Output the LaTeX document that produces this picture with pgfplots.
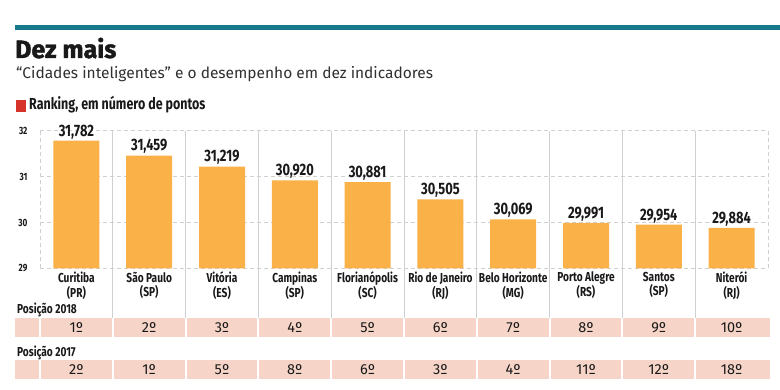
\documentclass[border=0pt]{standalone}
\usepackage{fontspec}
\setmainfont{Fira Sans}
\newfontfamily\cond{Fira Sans}[FakeStretch=0.78]
\newfontfamily\heavy{Fira Sans Bold}[FakeBold=1.6]
\usepackage{pgfplots}
\pgfplotsset{compat=1.18}
\usepackage{pgfplotstable}
\definecolor{tealc}{RGB}{22,122,140}
\definecolor{barc}{RGB}{250,178,72}
\definecolor{pinkc}{RGB}{246,213,200}
\definecolor{redc}{RGB}{214,52,42}
\definecolor{gridc}{RGB}{208,208,208}
\definecolor{txt}{RGB}{25,25,25}
\pgfplotstableread{
x y lab
0 31.782 31,782
1 31.459 31,459
2 31.219 31,219
3 30.920 30,920
4 30.881 30,881
5 30.505 30,505
6 30.069 30,069
7 29.991 29,991
8 29.954 29,954
9 29.884 29,884
}\datatab
\begin{document}
\begin{tikzpicture}[x=1pt,y=1pt]
\fill[white] (0,0) rectangle (780,-390);
\fill[tealc] (15,-25) rectangle (780,-30);
\node[anchor=base west, inner sep=0, text=txt] at (15,-58) {\fontsize{25}{25}\selectfont\heavy Dez mais};
\node[anchor=base west, inner sep=0, text=txt!90] at (16,-79) {\fontsize{15.5}{16}\selectfont “Cidades inteligentes” e o desempenho em dez indicadores};
\fill[redc] (16,-100) rectangle (26,-112);
\node[anchor=base west, inner sep=0, text=txt] at (29,-110) {\cond\bfseries\fontsize{16}{16}\selectfont Ranking, em número de pontos};
% interior separators
\foreach \i in {1,...,9} {
  \draw[gridc, line width=0.8pt] ({40+72.8*\i},-130.7) -- ({40+72.8*\i},-318);
}
% pink rows
\foreach \r in {318,360} {
  \fill[pinkc] (15,-\r) rectangle (38.5,-\r-19);
  \foreach \i in {0,...,9} {
    \pgfmathsetmacro{\xa}{40+72.8*\i+1}
    \pgfmathsetmacro{\xb}{ifthenelse(\i==9,770,40+72.8*(\i+1)-1)}
    \fill[pinkc] (\xa,-\r) rectangle (\xb,-\r-19);
  }
}
\node[anchor=base west, inner sep=0, text=txt] at (17,-314) {\cond\bfseries\fontsize{13}{13}\selectfont Posição 2018};
\node[anchor=base west, inner sep=0, text=txt] at (17,-356) {\cond\bfseries\fontsize{13}{13}\selectfont Posição 2017};
\foreach \t [count=\i from 0] in {1º,2º,3º,4º,5º,6º,7º,8º,9º,10º} {
  \node[text=txt, inner sep=0] at ({76.4+72.8*\i},-328) {\fontsize{14.5}{14}\selectfont \t};
}
\foreach \t [count=\i from 0] in {2º,1º,5º,8º,6º,3º,4º,11º,12º,18º} {
  \node[text=txt, inner sep=0] at ({76.4+72.8*\i},-370) {\fontsize{14.5}{14}\selectfont \t};
}
\begin{axis}[
  at={(40pt,-268.5pt)}, anchor=south west,
  scale only axis, width=728pt, height=137.8pt,
  xmin=-0.5, xmax=9.5, ymin=29, ymax=32,
  ytick={29,30,31,32},
  xtick={0,...,9},
  xticklabels={{Curitiba\\(PR)},{São Paulo\\(SP)},{Vitória\\(ES)},{Campinas\\(SP)},{Florianópolis\\(SC)},{Rio de Janeiro\\(RJ)},{Belo Horizonte\\(MG)},{Porto Alegre\\(RS)},{Santos\\(SP)},{Niterói\\(RJ)}},
  xticklabel style={font=\cond\bfseries\fontsize{13}{14.5}\selectfont, align=center, text=txt, yshift=0pt},
  yticklabel style={font=\cond\bfseries\fontsize{10.5}{11}\selectfont, text=txt, xshift=-9pt},
  /pgf/number format/assume math mode=true,
  axis line style={draw=none},
  major tick length=0pt,
  ymajorgrids,
  grid style={gridc, dash pattern=on 4pt off 3pt, line width=0.8pt},
  extra x ticks={-0.5,9.5},
  extra x tick labels={},
  extra x tick style={grid=major},
  ybar, bar width=46pt,
  nodes near coords,
  point meta=explicit symbolic,
  every node near coord/.append style={font=\cond\bfseries\fontsize{16.5}{16}\selectfont, text=txt, anchor=south, inner sep=1.5pt},
]
\addplot[fill=barc, draw=none, bar shift=0pt] table[x=x, y=y, meta=lab] {\datatab};
\end{axis}
\end{tikzpicture}
\end{document}
